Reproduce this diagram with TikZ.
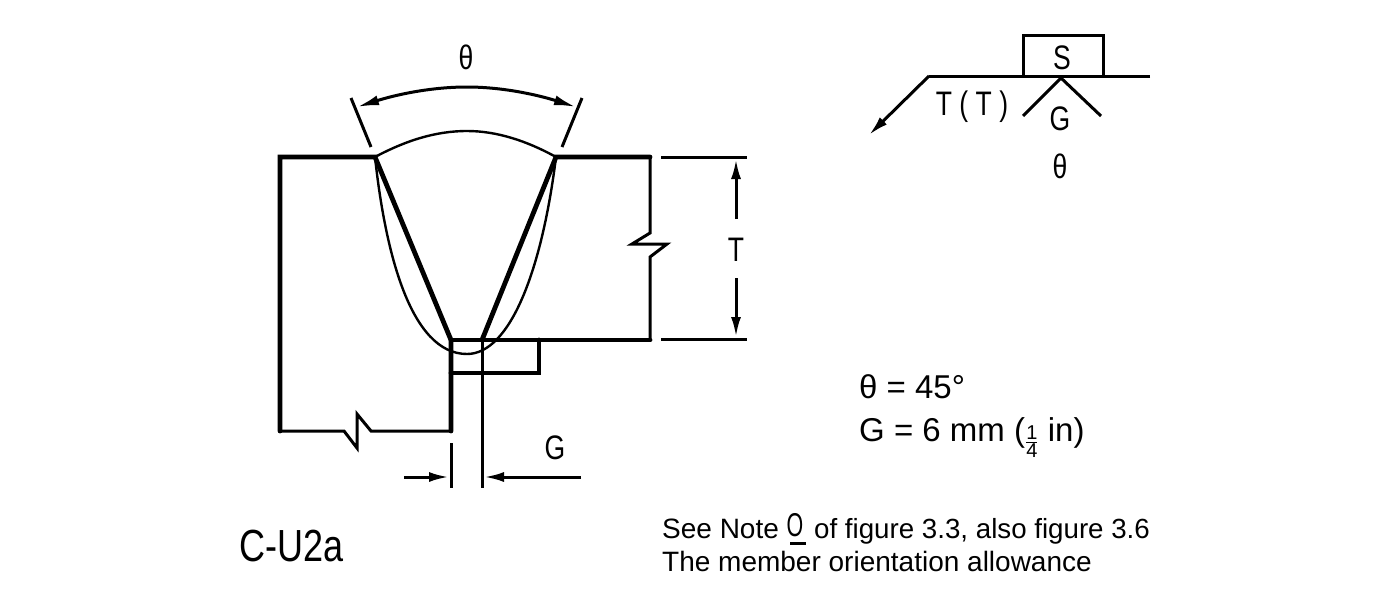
\documentclass[tikz,border=0pt]{standalone}
\usepackage{fontspec}
\setmainfont{Liberation Sans}
\usetikzlibrary{arrows.meta}
\tikzset{
 thick line/.style={line width=4.8pt,line cap=round,line join=miter},
 mid line/.style={line width=3pt,line join=miter},
 thin line/.style={line width=2.4pt,line join=round},
 tip/.style={-{Latex[length=20pt,width=10pt]}},
 draft/.style={inner sep=0pt,font=\fontsize{34}{34}\selectfont,xscale=.78},
 txt/.style={inner sep=0pt,anchor=base west,font=\fontsize{#1}{#1}\selectfont},
}
\begin{document}
\begin{tikzpicture}[x=1pt,y=-1pt]
\useasboundingbox[fill=white] (0,0) rectangle (1400,600);
% plate points
\coordinate (tl) at (280,157); \coordinate (gl) at (375,157); \coordinate (gr) at (556,157);
\coordinate (tr) at (650,157); \coordinate (rl) at (451,340); \coordinate (rr) at (482,340);
\coordinate (br) at (650,340); \coordinate (bl) at (451,431); \coordinate (lb) at (280,431);
\coordinate (bk) at (539,340); \coordinate (bkc) at (539,373); \coordinate (bki) at (451,373);
% thick outline
\draw[thick line] (lb) -- (tl) -- (gl) -- (rl) -- (bl);
\draw[thick line] (rl) -- (br);
\draw[thick line] (rr) -- (gr) -- (tr);
\draw[thick line] (bki) -- (bkc) -- (bk);
% break lines
\draw[mid line] (bl) -- (371,431) -- (357,414) -- (357,448) -- (344,431) -- (lb);
\draw[mid line] (tr) -- (650,233) -- (632,244) -- (667,244) -- (650,257) -- (br);
% weld
\draw[thin line] (gl) .. controls (405,141) and (435,131) .. (467,131) .. controls (497,131) and (527,141) .. (gr);
\draw[thin line] (gl) .. controls (385,250) and (410,354) .. (467,354) .. controls (510,354) and (542,270) .. (gr);
% theta dimension
\coordinate (e1a) at (351,98); \coordinate (e1b) at (371,147);
\coordinate (e2a) at (582,98); \coordinate (e2b) at (562,147);
\coordinate (a1) at (357,107); \coordinate (a2) at (576,107);
\draw[mid line] (e1a) -- (e1b);
\draw[mid line] (e2a) -- (e2b);
\draw[mid line,{Latex[length=22pt,width=10pt]}-{Latex[length=22pt,width=10pt]}] (a1) .. controls (395,95) and (430,87) .. (467,87) .. controls (503,87) and (538,95) .. (a2);
\node[draft] (th) at (466,57) {θ};
% T dimension
\coordinate (x1) at (661,157); \coordinate (x2) at (747,157);
\coordinate (x3) at (661,339); \coordinate (x4) at (747,339);
\draw[mid line] (x1) -- (x2);
\draw[mid line] (x3) -- (x4);
\node[draft] (T) at (736,250) {T};
\coordinate (t1) at (736,219); \coordinate (t2) at (736,159);
\coordinate (t3) at (736,278); \coordinate (t4) at (736,337);
\draw[mid line,tip] (t1) -- (t2);
\draw[mid line,tip] (t3) -- (t4);
% G dimension
\coordinate (g1) at (451,443); \coordinate (g2) at (451,488);
\coordinate (g3) at (482,488);
\draw[mid line] (g1) -- (g2);
\draw[mid line] (rr) -- (g3);
\coordinate (h1) at (404,477); \coordinate (h2) at (449,477);
\coordinate (h3) at (581,477); \coordinate (h4) at (484,477);
\draw[mid line,tip] (h1) -- (h2);
\draw[mid line,tip] (h3) -- (h4);
\node[draft] (G) at (555,448) {G};
% weld symbol
\coordinate (s1) at (929,76); \coordinate (s2) at (1150,76); \coordinate (s3) at (869,135);
\coordinate (b1) at (1023,76); \coordinate (b2) at (1023,35); \coordinate (b3) at (1103,35); \coordinate (b4) at (1103,76);
\draw[mid line] (s2) -- (s1);
\draw[mid line,tip] (s1) -- (s3);
\draw[mid line] (b1) -- (b2) -- (b3) -- (b4);
\coordinate (c1) at (1023,116); \coordinate (c2) at (1061,78); \coordinate (c3) at (1101,116);
\draw[mid line] (c1) -- (c2) -- (c3);
\node[draft] (S) at (1062,58) {S};
\node[draft] (TT) at (972,107) {T ( T )};
\node[draft] (Gs) at (1060,119) {G};
\node[draft] (ths) at (1060,166) {θ};
% notes
\node[txt=33] (n1) at (859,398) {θ = 45°};
\node[txt=33] (n2) at (859,441) {G = 6 mm (\raisebox{-7pt}{\fontsize{20}{20}\selectfont$\mbox{1}\above.9pt\mbox{4}$} in)};
\node[txt=28] (n3) at (662,538) {See Note};
\node[inner sep=0pt,font=\fontsize{33}{33}\selectfont,xscale=.65] (q) at (795,525) {O};
\coordinate (u1) at (790,543); \coordinate (u2) at (806,543);
\draw[mid line] (u1) -- (u2);
\node[txt=27.7] (n4) at (814,538) {of figure 3.3, also figure 3.6};
\node[txt=28] (n5) at (662,571) {The member orientation allowance};
\node[inner sep=0pt,anchor=base west,font=\fontsize{45}{45}\selectfont,xscale=.8] (id) at (239,561) {C-U2a};
\end{tikzpicture}
\end{document}
